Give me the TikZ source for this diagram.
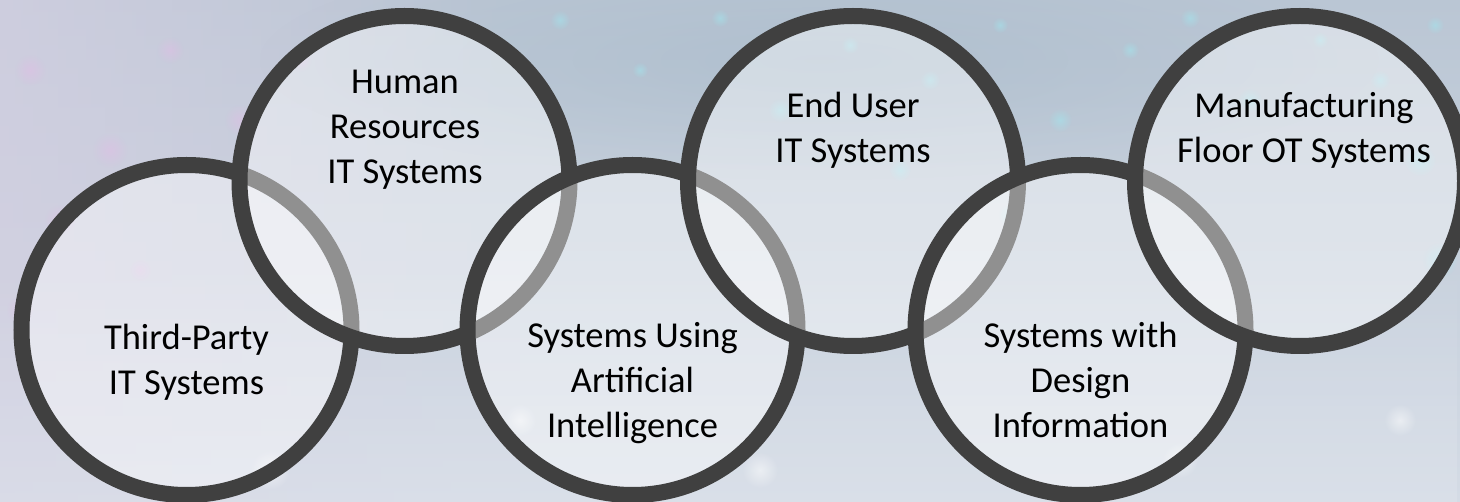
\documentclass[tikz,border=0pt]{standalone}
\usepackage{fontspec}
\setmainfont{Carlito}
\usetikzlibrary{fadings}
\tikzfading[name=softdot, inner color=transparent!0, outer color=transparent!100]
\definecolor{ringgray}{RGB}{64,64,64}
\definecolor{bgtop}{RGB}{186,198,212}
\definecolor{bgbottom}{RGB}{212,219,229}
\definecolor{bgleft}{RGB}{212,208,226}
\definecolor{bglight}{RGB}{222,227,236}
\definecolor{bgdark}{RGB}{168,186,202}
\definecolor{bokehcyan}{RGB}{160,232,240}
\definecolor{bokehpink}{RGB}{230,185,232}
\tikzset{
  ring/.style={circle, draw=ringgray, line width=16pt, fill=white, fill opacity=0.42,
    draw opacity=1, text opacity=1, minimum size=330pt, inner sep=0pt, outer sep=0pt},
  lbl/.style={font=\fontsize{36.5}{45}\selectfont, align=center, inner sep=0pt, anchor=base, text=black},
  dot/.style={path fading=softdot}
}
\begin{document}
\begin{tikzpicture}[x=1pt,y=-1pt]
  \useasboundingbox (0,0) rectangle (1460,502);
  \clip (0,0) rectangle (1460,502);

  % blurred backdrop
  \shade[top color=bgtop, bottom color=bgbottom] (0,0) rectangle (1460,502);
  \fill[bgleft, path fading=east, opacity=0.75] (0,0) rectangle (520,502);
  \fill[bglight, path fading=north, opacity=0.55] (0,260) rectangle (1460,502);
  \fill[bgdark, path fading=softdot, opacity=0.6] (820,60) ellipse [x radius=560pt, y radius=120pt];

  % bokeh lights
  \foreach \x/\y/\r in {560/20/10, 640/70/8, 720/18/9, 780/110/12, 850/45/9, 930/80/10,
      1000/25/8, 1060/120/12, 1130/50/9, 1190/18/10, 1250/100/12, 1320/40/8, 1380/80/10,
      1435/25/9, 1420/160/16, 1440/260/18, 690/150/10, 900/170/11, 1010/215/12}
    \fill[bokehcyan, dot, opacity=0.5] (\x,\y) circle[radius=\r pt];
  \foreach \x/\y/\r in {30/70/16, 110/150/18, 60/220/16, 170/50/14, 240/120/16, 300/60/12,
      20/310/14, 140/270/12}
    \fill[bokehpink, dot, opacity=0.4] (\x,\y) circle[radius=\r pt];
  \foreach \x/\y/\r in {270/470/20, 520/420/16, 760/470/18, 1180/460/18, 1400/420/16}
    \fill[white, dot, opacity=0.5] (\x,\y) circle[radius=\r pt];

  % interlocking rings, each laid over the previous one
  \node[ring] (tp) at (186.5,330) {};
  \node[ring] (hr) at (404.5,181) {};
  \node[ring] (ai) at (632.5,330) {};
  \node[ring] (eu) at (853,181) {};
  \node[ring] (di) at (1080.5,330) {};
  \node[ring] (mf) at (1300,181) {};

  % captions (anchored on the baseline of their last line)
  \node[lbl] (tptext) at (186.5,395) {Third-Party\\IT Systems};
  \node[lbl] (hrtext) at (405,184) {Human\\Resources\\IT Systems};
  \node[lbl] (aitext) at (632.5,438) {Systems Using\\Artificial\\Intelligence};
  \node[lbl] (eutext) at (853,163) {End User\\IT Systems};
  \node[lbl] (ditext) at (1080.5,438) {Systems with\\Design\\Information};
  \node[lbl] (mftext) at (1304,163) {Manufacturing\\Floor OT Systems};
\end{tikzpicture}
\end{document}
